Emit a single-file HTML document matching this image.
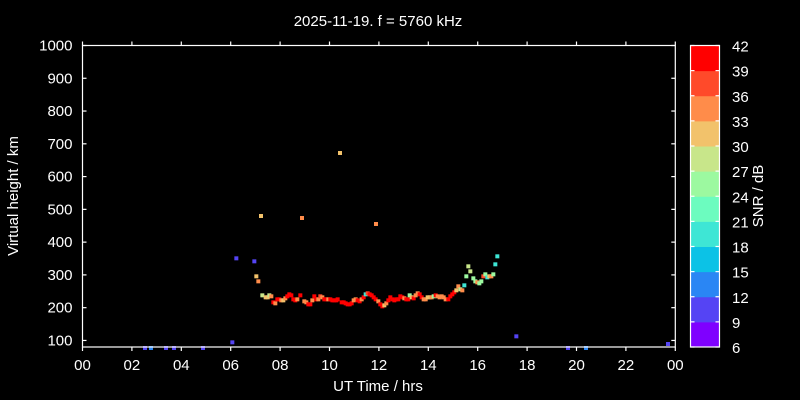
<!DOCTYPE html>
<html><head><style>
body{margin:0;background:#000;}
svg{display:block}
text{font-family:"Liberation Sans",sans-serif;fill:#fff;font-size:15px}
</style></head><body>
<svg id="s" width="800" height="400" viewBox="0 0 800 400">
<rect width="800" height="400" fill="#000"/>
<text x="378" y="26" text-anchor="middle">2025-11-19. f = 5760 kHz</text>
<g id="pts"></g>
<g id="ax" stroke="#fff" stroke-width="1.2" fill="none"></g>
<g id="lab"></g>
<text transform="translate(18,196) rotate(-90)" text-anchor="middle">Virtual height / km</text>
<text x="378" y="391" text-anchor="middle">UT Time / hrs</text>
<text transform="translate(763,196) rotate(-90)" text-anchor="middle">SNR / dB</text>
</svg>
<script>
const ns="http://www.w3.org/2000/svg";
function el(p,t,a,txt){const e=document.createElementNS(ns,t);for(const k in a)e.setAttribute(k,a[k]);if(txt!==undefined)e.textContent=txt;p.appendChild(e);return e;}
const ax=document.getElementById('ax'),lab=document.getElementById('lab'),pts=document.getElementById('pts');
const L=82.5,R=675.3,T=45.5,B=347;
el(ax,'rect',{x:L,y:T,width:R-L,height:B-T});
// y ticks
for(let h=100;h<=1000;h+=100){const y=T+(1000-h)*(B-T)/920;
 el(ax,'line',{x1:L,x2:L+4,y1:y,y2:y});el(ax,'line',{x1:R,x2:R-4,y1:y,y2:y});
 el(lab,'text',{x:L-10,y:y+5,'text-anchor':'end'},String(h));}
for(let i=0;i<=12;i++){const x=L+i*(R-L)/12;
 el(ax,'line',{x1:x,x2:x,y1:B,y2:B+4});el(ax,'line',{x1:x,x2:x,y1:T,y2:T-4});
 el(lab,'text',{x:x,y:370,'text-anchor':'middle'},String((i*2)%24).padStart(2,'0'));}
const cols=['#7f00ff','#5544f4','#2a86f4','#0cc2e6','#3ee6d5','#6cfcbf','#9cf9a0','#c8e68a','#f2c26b','#ff8c4a','#ff4a2a','#ff0000'];
const cx=690.5,cw=29,bh=(B-T)/12;
for(let i=0;i<12;i++){el(pts,'rect',{x:cx,y:B-(i+1)*bh,width:cw,height:bh+0.5,fill:cols[i]});}
el(ax,'rect',{x:cx,y:T,width:cw,height:B-T});
for(let i=0;i<=12;i++){const y=B-i*bh;
 el(ax,'line',{x1:cx,x2:cx+4,y1:y,y2:y});el(ax,'line',{x1:cx+cw,x2:cx+cw-4,y1:y,y2:y});
 el(lab,'text',{x:732,y:y+6},String(6+3*i));}
const C={r:'#ff0000',R:'#ff4a2a',o:'#ff8c4a',y:'#f2c26b',Y:'#c8e68a',g:'#9cf9a0',m:'#6cfcbf',t:'#3ee6d5',b:'#5544f4',B:'#2a86f4'};
const z=[[49,85,'b'],[103,94,'b'],[109,139,'y'],[115,154,'o'],[127,196,'Y'],[137,202,'y'],[143,202,'y'],[148,196,'Y'],[154,199,'o'],[160,217,'r'],[166,220,'o'],[172,208,'r'],[178,208,'r'],[184,211,'o'],[190,211,'y'],[196,205,'o'],[202,199,'r'],[208,193,'r'],[214,196,'r'],[220,208,'r'],[226,211,'r'],[232,208,'o'],[241,196,'r'],[253,214,'o'],[259,217,'o'],[265,223,'r'],[271,223,'r'],[277,211,'o'],[283,199,'r'],[289,208,'r'],[295,208,'o'],[301,199,'R'],[307,202,'o'],[313,208,'r'],[319,208,'r'],[325,208,'o'],[331,208,'r'],[337,211,'r'],[343,211,'r'],[349,211,'r'],[353,208,'r'],[365,217,'r'],[371,217,'r'],[377,220,'r'],[383,223,'r'],[389,223,'r'],[395,220,'r'],[401,211,'o'],[407,208,'o'],[413,211,'r'],[419,214,'r'],[425,208,'o'],[431,202,'r'],[437,193,'t'],[443,190,'R'],[449,193,'r'],[455,196,'r'],[461,202,'r'],[467,208,'r'],[475,214,'o'],[481,223,'r'],[487,229,'r'],[493,226,'y'],[499,220,'o'],[505,211,'r'],[511,202,'r'],[517,208,'r'],[523,211,'r'],[529,208,'r'],[535,208,'r'],[541,199,'r'],[547,202,'r'],[553,205,'o'],[559,208,'r'],[565,208,'r'],[569,196,'g'],[575,202,'y'],[581,205,'r'],[587,196,'o'],[593,190,'o'],[599,193,'r'],[605,202,'r'],[611,208,'o'],[617,208,'o'],[623,202,'y'],[629,202,'y'],[635,202,'o'],[641,199,'g'],[647,196,'r'],[653,199,'o'],[659,202,'o'],[665,199,'o'],[671,202,'o'],[677,208,'o'],[685,208,'r'],[691,199,'r'],[697,193,'r'],[703,187,'r'],[709,181,'y'],[715,169,'o'],[721,178,'Y'],[727,181,'o'],[733,166,'t'],[739,139,'g'],[745,109,'Y'],[751,124,'Y'],[760,145,'g'],[766,154,'g'],[772,157,'o'],[778,160,'g'],[784,154,'g'],[790,139,'R'],[796,133,'g'],[802,142,'t'],[808,139,'y'],[814,139,'o'],[820,133,'g'],[826,103,'t'],[832,79,'t'],[37,337,'b'],[889,319,'b']];
const P=z.map(p=>[p[0]/3+220,p[1]/3+230,p[2]]);
P.push([340,153,'y'],[261,216,'y'],[302,218,'o'],[376,224,'o'],[145,348,'b'],[151,348,'B'],[166,348,'b'],[174,348,'b'],[203,348,'b'],[668,344,'b'],[568,348,'b'],[586,348,'B']);
for(const p of P)el(pts,'rect',{x:p[0]-2,y:p[1]-2,width:4,height:4,fill:C[p[2]]});
</script>
</body></html>
